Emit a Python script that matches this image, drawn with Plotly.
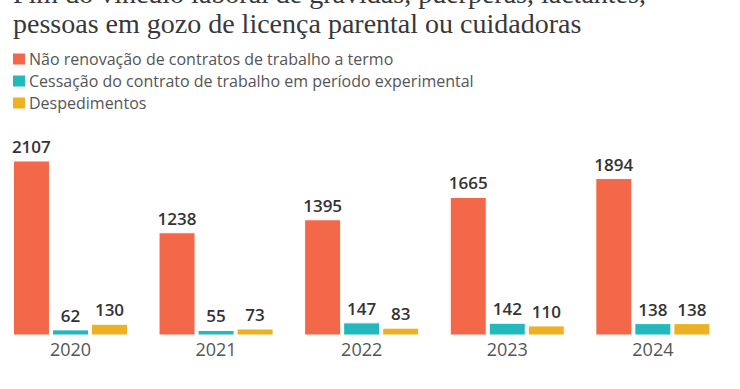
import plotly.graph_objects as go

years = ["2020", "2021", "2022", "2023", "2024"]
nao_renovacao = [2107, 1238, 1395, 1665, 1894]
cessacao = [62, 55, 147, 142, 138]
despedimentos = [130, 73, 83, 110, 138]

series_names = [
    "Não renovação de contratos de trabalho a termo",
    "Cessação do contrato de trabalho em período experimental",
    "Despedimentos",
]
series_values = [nao_renovacao, cessacao, despedimentos]
colors = ["#F26849", "#22B8BC", "#ECB223"]

title_lines = [
    "Fim do vínculo laboral de grávidas, puérperas, lactantes,",
    "pessoas em gozo de licença parental ou cuidadoras",
]

W, H = 740, 389
ML, MR, MT, MB = 0, 12, 130, 54
PW = W - ML - MR
PH = H - MT - MB


def px_x(p):
    return (p - ML) / PW


def px_y(p):
    return (H - MB - p) / PH


fig = go.Figure()
for name, vals, col in zip(series_names, series_values, colors):
    fig.add_trace(go.Bar(
        x=years, y=vals, name=name,
        marker=dict(color=col, line=dict(color="white", width=1)),
        text=vals, texttemplate="%{y}", textposition="outside",
        textfont=dict(family="Open Sans", size=17, color="#333333", weight=600),
        constraintext="none", cliponaxis=False, showlegend=False,
        hoverinfo="skip",
    ))

annotations = []
shapes = []
# Title (two lines, first partly cut at the top)
for line, base in zip(title_lines, [3, 33]):
    annotations.append(dict(
        text=line, xref="paper", yref="paper",
        x=px_x(11), y=px_y(base - 9.5), xanchor="left", yanchor="middle",
        showarrow=False, font=dict(family="Liberation Serif", size=28, color="#383838"),
    ))
# Legend
for i, (name, col) in enumerate(zip(series_names, colors)):
    cy = 59 + 22 * i
    shapes.append(dict(
        type="rect", xref="paper", yref="paper",
        x0=px_x(13), x1=px_x(25), y0=px_y(cy - 5.5), y1=px_y(cy + 5.5),
        fillcolor=col, line=dict(width=0),
    ))
    annotations.append(dict(
        text=name, xref="paper", yref="paper",
        x=px_x(27), y=px_y(cy), xanchor="left", yanchor="middle",
        showarrow=False, font=dict(family="Open Sans", size=16, color="#555555"),
    ))

fig.update_layout(
    width=W, height=H,
    margin=dict(l=ML, r=MR, t=MT, b=MB),
    paper_bgcolor="white", plot_bgcolor="white",
    barmode="group", bargap=0.196, bargroupgap=0.077,
    xaxis=dict(
        type="category", range=[-0.484, 4.516], showgrid=False, zeroline=False,
        showline=False, ticks="", ticklabelstandoff=2,
        tickfont=dict(family="Open Sans", size=18, color="#555555"),
        fixedrange=True,
    ),
    yaxis=dict(range=[0, 2482], visible=False, fixedrange=True),
    annotations=annotations, shapes=shapes,
    showlegend=False,
)

fig.write_html(
    "out.html",
    config={"displayModeBar": False},
    post_script="document.body.style.margin='0';document.body.style.overflow='hidden';",
)
